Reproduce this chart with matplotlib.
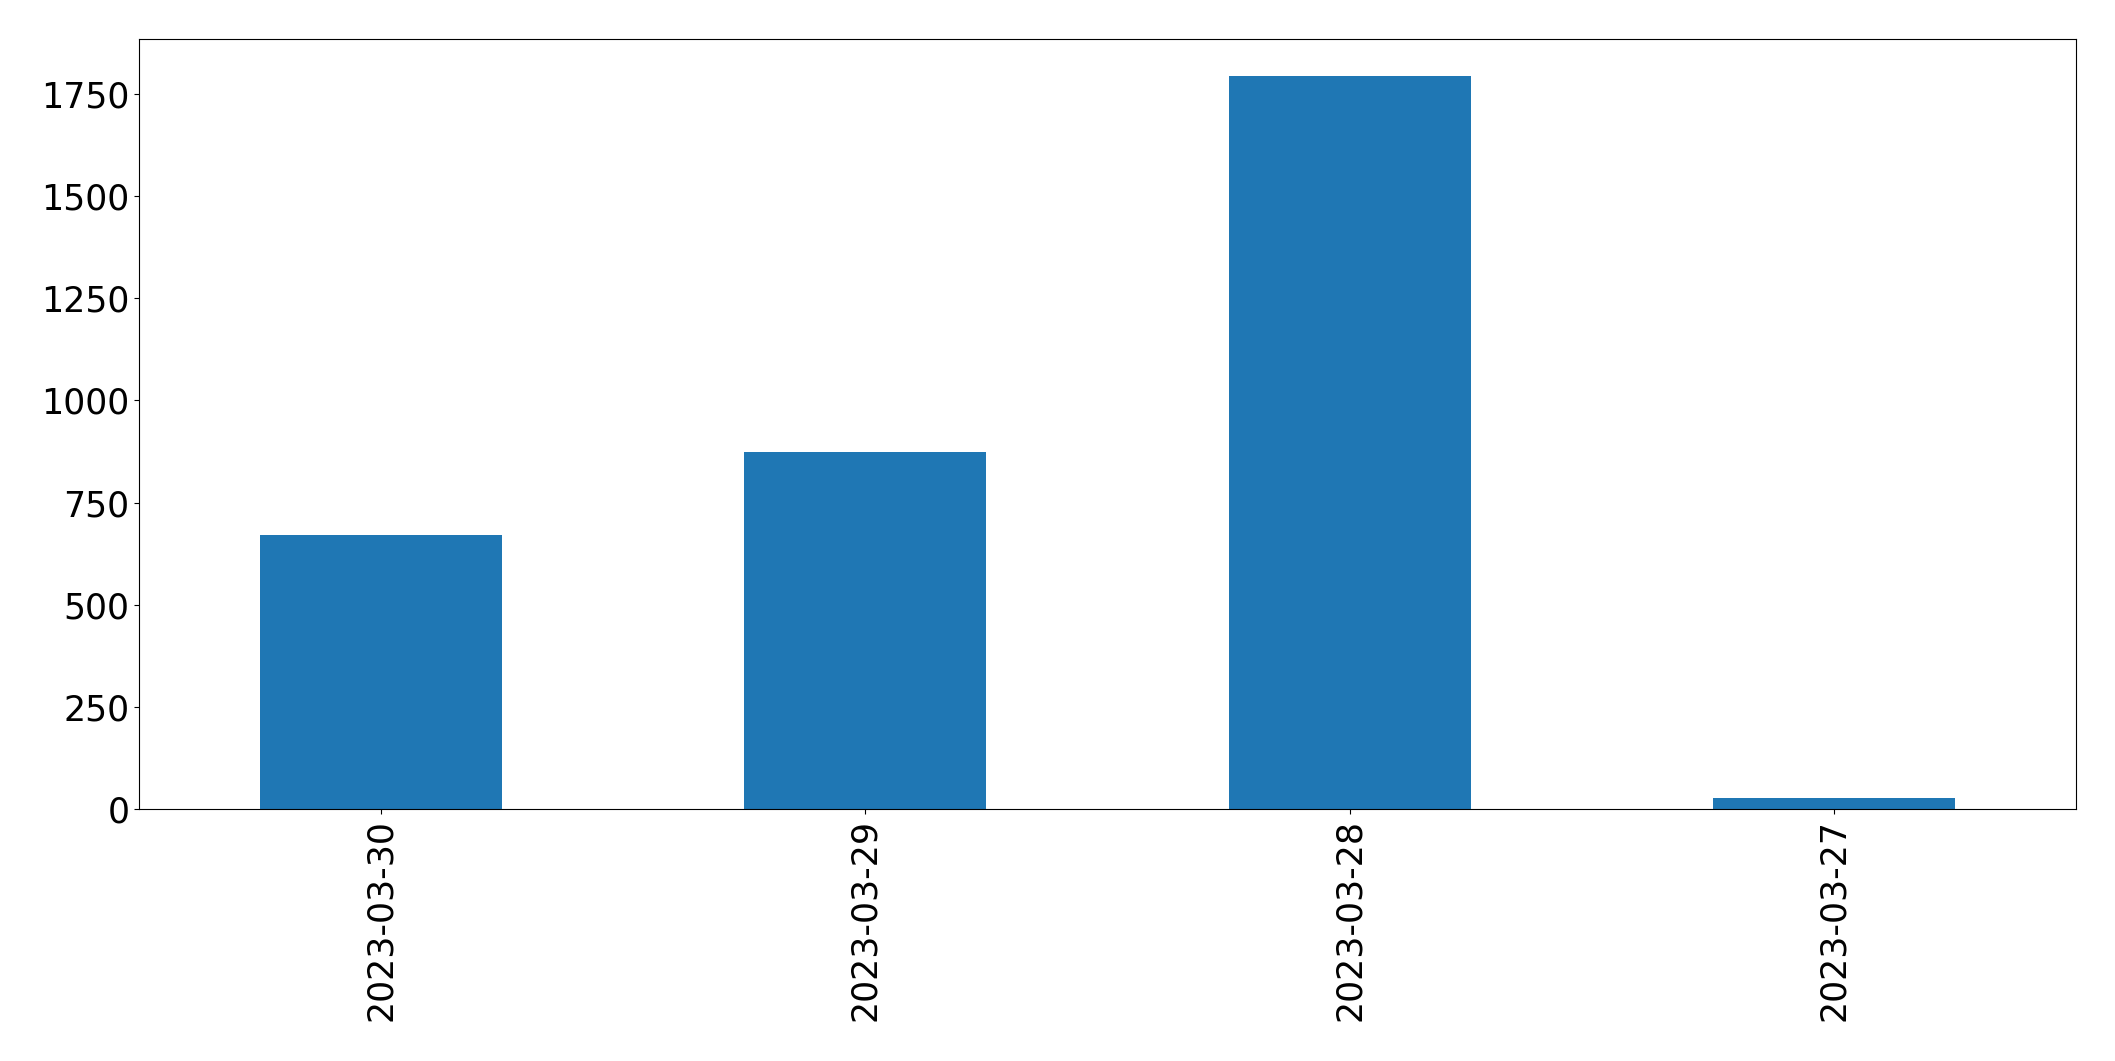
import matplotlib
matplotlib.use("Agg")
import matplotlib.pyplot as plt

dates = ["2023-03-30", "2023-03-29", "2023-03-28", "2023-03-27"]
values = [671, 874, 1795, 27]

fig = plt.figure(figsize=(21.15, 10.61), dpi=100)
ax = fig.add_axes([139/2115, 1 - 809/1061, (2076-139)/2115, (809-39)/1061])
x = list(range(len(dates)))
ax.bar(x, values, width=0.5, color="#1f77b4")
ax.set_xlim(-0.5, len(dates) - 0.5)
ax.set_xticks(x)
ax.set_xticklabels(dates, rotation=90)
ax.tick_params(axis="both", labelsize=25)
fig.savefig("out.png", dpi=100)
